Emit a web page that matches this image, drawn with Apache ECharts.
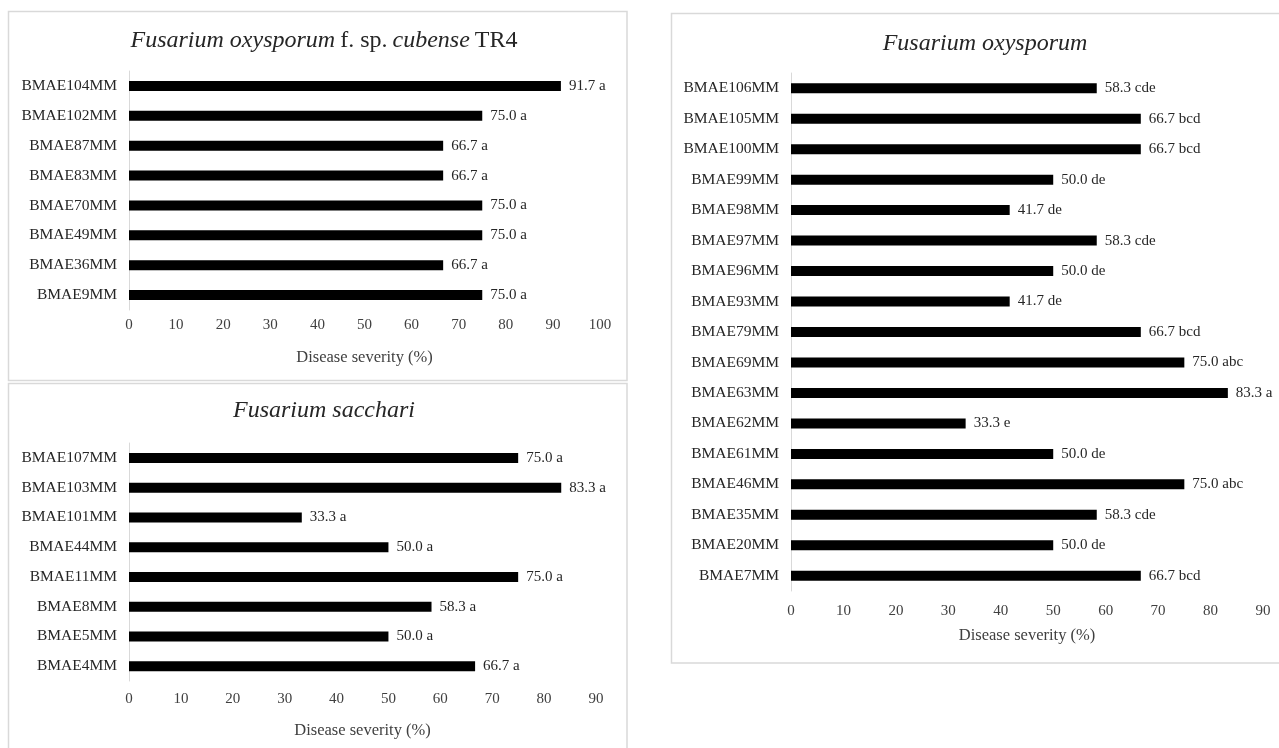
<!DOCTYPE html>
<html>
<head>
<meta charset="utf-8">
<script src="https://cdn.jsdelivr.net/npm/echarts@6/dist/echarts.min.js"></script>
<style>
html,body{margin:0;padding:0;background:#fff;}
#c{width:1279px;height:748px;}
</style>
</head>
<body>
<div id="c"></div>
<script>
// Panel 1: Fusarium oxysporum f. sp. cubense TR4
const tr4Categories = ['BMAE104MM','BMAE102MM','BMAE87MM','BMAE83MM','BMAE70MM','BMAE49MM','BMAE36MM','BMAE9MM'];
const tr4Values = [91.7, 75.0, 66.7, 66.7, 75.0, 75.0, 66.7, 75.0];
const tr4Letters = ['a','a','a','a','a','a','a','a'];

// Panel 2: Fusarium sacchari
const sacCategories = ['BMAE107MM','BMAE103MM','BMAE101MM','BMAE44MM','BMAE11MM','BMAE8MM','BMAE5MM','BMAE4MM'];
const sacValues = [75.0, 83.3, 33.3, 50.0, 75.0, 58.3, 50.0, 66.7];
const sacLetters = ['a','a','a','a','a','a','a','a'];

// Panel 3: Fusarium oxysporum
const foCategories = ['BMAE106MM','BMAE105MM','BMAE100MM','BMAE99MM','BMAE98MM','BMAE97MM','BMAE96MM','BMAE93MM','BMAE79MM','BMAE69MM','BMAE63MM','BMAE62MM','BMAE61MM','BMAE46MM','BMAE35MM','BMAE20MM','BMAE7MM'];
const foValues = [58.3, 66.7, 66.7, 50.0, 41.7, 58.3, 50.0, 41.7, 66.7, 75.0, 83.3, 33.3, 50.0, 75.0, 58.3, 50.0, 66.7];
const foLetters = ['cde','bcd','bcd','de','de','cde','de','de','bcd','abc','a','e','de','abc','cde','de','bcd'];

const axisName = 'Disease severity (%)';

const FONT = '"Liberation Serif", "Times New Roman", serif';
const chart = echarts.init(document.getElementById('c'), null, {renderer: 'canvas'});

function xAxisCfg(gridIndex, max, labelMargin, nameGap) {
  return {
    type: 'value', gridIndex: gridIndex, min: 0, max: max, interval: 10,
    axisLine: {show: false}, axisTick: {show: false}, splitLine: {show: false},
    axisLabel: {color: '#404040', fontFamily: FONT, fontSize: 15, margin: labelMargin},
    name: axisName, nameLocation: 'middle', nameGap: nameGap,
    nameTextStyle: {color: '#404040', fontFamily: FONT, fontSize: 16.5}
  };
}
function yAxisCfg(gridIndex, cats) {
  return {
    type: 'category', gridIndex: gridIndex, data: cats, inverse: true,
    axisLine: {show: true, lineStyle: {color: '#d9d9d9', width: 1}},
    axisTick: {show: false}, splitLine: {show: false},
    axisLabel: {color: '#262626', fontFamily: FONT, fontSize: 15.5, margin: 12}
  };
}
function seriesCfg(idx, vals, letters, bw) {
  return {
    type: 'bar', xAxisIndex: idx, yAxisIndex: idx, data: vals, barWidth: bw,
    itemStyle: {color: '#000'},
    label: {show: true, position: 'right', distance: 8, color: '#262626', fontFamily: FONT, fontSize: 15,
      formatter: p => p.value.toFixed(1) + ' ' + letters[p.dataIndex]}
  };
}
const titleRich = {
  i: {fontFamily: FONT, fontStyle: 'italic', fontWeight: 'normal', fontSize: 24, color: '#262626'},
  n: {fontFamily: FONT, fontWeight: 'normal', fontSize: 24, color: '#262626'}
};

chart.setOption({
  animation: false,
  backgroundColor: '#fff',
  title: [
    {text: '{i|Fusarium oxysporum} {n|f. sp.} {i|cubense} {n|TR4}', left: 319, top: 24, textAlign: 'center',
      textStyle: {fontWeight: 'normal', rich: titleRich}},
    {text: '{i|Fusarium sacchari}', left: 319, top: 394, textAlign: 'center', textStyle: {fontWeight: 'normal', rich: titleRich}},
    {text: '{i|Fusarium oxysporum}', left: 980, top: 27, textAlign: 'center', textStyle: {fontWeight: 'normal', rich: titleRich}}
  ],
  graphic: [
    {type: 'rect', shape: {x: 8.5, y: 11.5, width: 618.5, height: 369}, style: {fill: 'none', stroke: '#d9d9d9', lineWidth: 1.5}, silent: true},
    {type: 'rect', shape: {x: 8.5, y: 383.5, width: 618.5, height: 380}, style: {fill: 'none', stroke: '#d9d9d9', lineWidth: 1.5}, silent: true},
    {type: 'rect', shape: {x: 671.5, y: 13.5, width: 640, height: 649.5}, style: {fill: 'none', stroke: '#d9d9d9', lineWidth: 1.5}, silent: true}
  ],
  grid: [
    {left: 129, top: 71, width: 471, height: 239},
    {left: 129, top: 443, width: 467, height: 238},
    {left: 791, top: 73, width: 472, height: 518}
  ],
  xAxis: [
    xAxisCfg(0, 100, 8, 39),
    xAxisCfg(1, 90, 11, 41),
    xAxisCfg(2, 90, 13, 36)
  ],
  yAxis: [
    yAxisCfg(0, tr4Categories),
    yAxisCfg(1, sacCategories),
    yAxisCfg(2, foCategories)
  ],
  series: [
    seriesCfg(0, tr4Values, tr4Letters, 10),
    seriesCfg(1, sacValues, sacLetters, 10),
    seriesCfg(2, foValues, foLetters, 10)
  ]
});
</script>
</body>
</html>
